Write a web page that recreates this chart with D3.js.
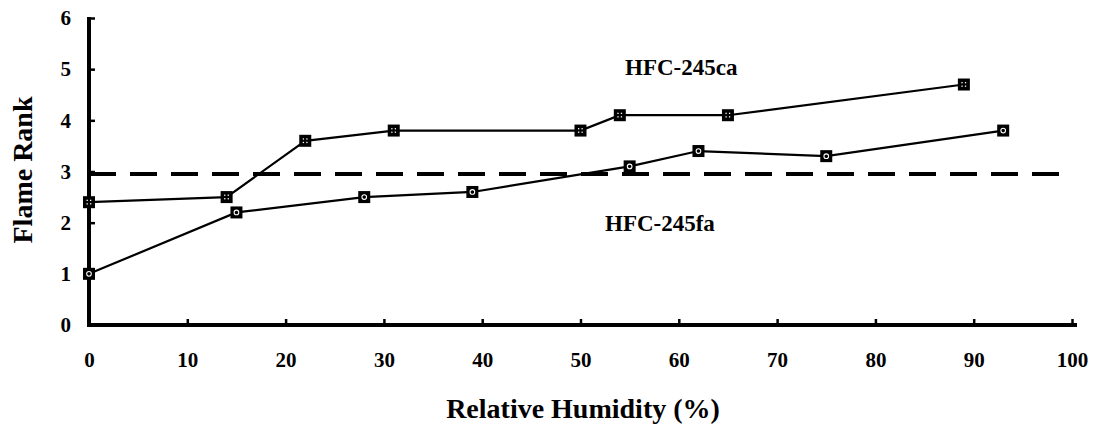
<!DOCTYPE html>
<html><head><meta charset="utf-8">
<script src="https://cdn.jsdelivr.net/npm/d3@7"></script>
<style>
body{margin:0;background:#fff;}
text{font-family:"Liberation Serif","Times New Roman",serif;font-weight:bold;fill:#000;}
</style></head>
<body><svg id="c" width="1096" height="427"></svg>
<script>
const xTicks = [0,10,20,30,40,50,60,70,80,90,100];
const yTicks = [0,1,2,3,4,5,6];
const caHumidity = [0,14,22,31,50,54,65,89];
const caRank = [2.4,2.5,3.6,3.8,3.8,4.1,4.1,4.7];
const faHumidity = [0,15,28,39,55,62,75,93];
const faRank = [1.0,2.2,2.5,2.6,3.1,3.4,3.3,3.8];
const thresholdRank = [2.95];
const thresholdRange = [0,100];
const seriesNames = ["HFC-245ca","HFC-245fa"];

const svg = d3.select("#c");
const x = d3.scaleLinear().domain([0,100]).range([89,1072]);
const y = d3.scaleLinear().domain([0,6]).range([325,18]);

// axes
const xa = svg.append("g").attr("transform","translate(0,325)")
  .call(d3.axisBottom(x).tickValues(xTicks).tickSize(-6).tickPadding(27).tickFormat(d3.format("d")));
xa.select(".domain").attr("stroke","#000").attr("stroke-width",4).attr("d","M87,0H1077");
xa.selectAll(".tick line").attr("stroke-width",2.5);
xa.selectAll(".tick").filter(d=>d===0).select("line").remove();
xa.selectAll("text").style("font-size","21px");

const ya = svg.append("g").attr("transform","translate(89,0)")
  .call(d3.axisLeft(y).tickValues(yTicks).tickSize(-6).tickPadding(18).tickFormat(d3.format("d")));
ya.select(".domain").attr("stroke","#000").attr("stroke-width",4).attr("d","M0,327V17");
ya.selectAll(".tick line").attr("stroke-width",2.5);
ya.selectAll(".tick").filter(d=>d===0).select("line").remove();
ya.selectAll("text").style("font-size","21px");

// threshold dashed line
svg.append("line")
  .attr("x1",x(thresholdRange[0])).attr("x2",x(thresholdRange[1])-5)
  .attr("y1",y(thresholdRank[0])).attr("y2",y(thresholdRank[0]))
  .attr("stroke","#000").attr("stroke-width",4).attr("stroke-dasharray","27,14");

const line = d3.line().x(d=>x(d[0])).y(d=>y(d[1]));
const ca = caHumidity.map((h,i)=>[h,caRank[i]]);
const fa = faHumidity.map((h,i)=>[h,faRank[i]]);

[ca,fa].forEach((data,si)=>{
  svg.append("path").datum(data).attr("d",line)
    .attr("fill","none").attr("stroke","#000").attr("stroke-width",2.2);
  const g = svg.append("g").selectAll("g").data(data).join("g")
    .attr("transform",d=>`translate(${x(d[0])},${y(d[1])})`);
  g.append("rect").attr("x",-6).attr("y",-6).attr("width",12).attr("height",12).attr("fill","#000");
  if(si===0){
    [[-2.5,-2.5],[1,-2.5],[-2.5,1],[1,1]].forEach(p=>{
      g.append("rect").attr("x",p[0]).attr("y",p[1]).attr("width",1.3).attr("height",1.3).attr("fill","#fff");
    });
  } else {
    g.append("circle").attr("r",2.3).attr("fill","none").attr("stroke","#fff").attr("stroke-width",1.1);
  }
});

// series labels
svg.append("text").attr("x",625).attr("y",75).style("font-size","23px").text(seriesNames[0]);
svg.append("text").attr("x",605).attr("y",231).style("font-size","23px").text(seriesNames[1]);

// axis titles
svg.append("text").attr("x",583).attr("y",418).attr("text-anchor","middle").style("font-size","28px").text("Relative Humidity (%)");
svg.append("text").attr("transform","translate(32,170) rotate(-90)").attr("text-anchor","middle").style("font-size","28px").text("Flame Rank");
</script></body></html>
